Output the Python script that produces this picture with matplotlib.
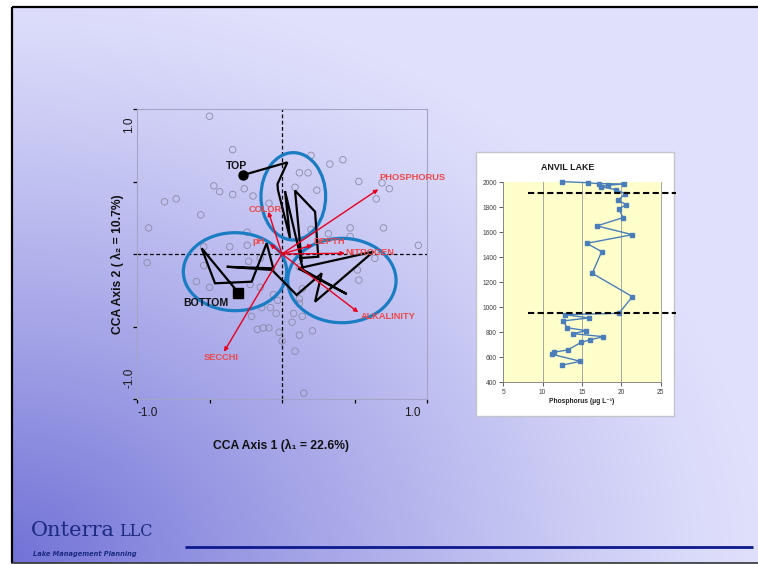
import numpy as np
import matplotlib
matplotlib.use("Agg")
import matplotlib.pyplot as plt
from matplotlib.patches import Ellipse, Rectangle

plt.rcParams['font.family'] = ['Liberation Sans', 'DejaVu Sans']

W, H = 758, 564

# ---------------- CCA ordination (sites, trajectory, biplot arrows) ----------------
site_x = [-0.50, -0.34, 0.20, 0.42, 0.33, 0.12, 0.18, -0.47, -0.43, -0.26, -0.34, -0.20,
          0.09, 0.24, 0.53, 0.69, 0.74, -0.81, -0.73, 0.65, -0.56, -0.92, 0.47, 0.70,
          -0.24, 0.20, 0.32, 0.47, -0.54, -0.36, -0.24, 0.94, -0.93, -0.23, -0.15, 0.64,
          -0.54, 0.12, 0.52, -0.59, -0.50, -0.22, 0.53, 0.14, 0.12, -0.06, -0.03, -0.14,
          -0.08, -0.04, 0.12, 0.08, 0.14, -0.21, 0.07, -0.13, -0.17, -0.09, -0.02, 0.00,
          0.21, 0.12, 0.09, 0.15, -0.09, -0.15]
site_y = [0.95, 0.72, 0.68, 0.65, 0.62, 0.56, 0.56, 0.47, 0.43, 0.45, 0.41, 0.40,
          0.46, 0.44, 0.50, 0.49, 0.45, 0.36, 0.38, 0.38, 0.27, 0.18, 0.18, 0.18,
          0.15, 0.17, 0.14, 0.12, 0.05, 0.05, 0.06, 0.06, -0.06, -0.05, -0.03, -0.03,
          -0.08, -0.09, -0.11, -0.19, -0.23, -0.21, -0.18, -0.24, -0.31, -0.28, -0.32, -0.37,
          -0.37, -0.41, -0.34, -0.41, -0.43, -0.43, -0.47, -0.51, -0.52, -0.51, -0.54, -0.60,
          -0.53, -0.56, -0.67, -0.96, 0.35, -0.23]

# core trajectory, from the top of the core to the bottom
traj_x = [-0.267, 0.037, -0.031, -0.028, 0.055, 0.021, 0.136, 0.090, 0.228, 0.250,
          0.124, 0.147, 0.446, 0.112, 0.630, 0.228, 0.274, 0.101, -0.069, -0.381,
          -0.060, -0.106, -0.209, -0.462, -0.554, -0.301]
traj_y = [0.545, 0.632, 0.483, 0.441, 0.110, 0.434, -0.055, 0.437, 0.292, -0.019,
          -0.028, -0.110, -0.276, -0.099, 0.016, -0.329, -0.133, -0.283, -0.110, -0.088,
          -0.099, 0.074, -0.191, -0.202, 0.039, -0.267]

env_names = ['PHOSPHORUS', 'COLOR', 'pH', 'DEPTH', 'NITROGEN', 'ALKALINITY', 'SECCHI']
env_x = [0.664, -0.094, -0.083, 0.211, 0.434, 0.526, -0.400]
env_y = [0.446, 0.292, 0.069, 0.062, 0.005, -0.402, -0.674]

zone_cx = [0.078, -0.324, 0.413]
zone_cy = [0.398, -0.122, -0.183]
zone_w = [0.446, 0.713, 0.747]
zone_h = [0.602, 0.538, 0.582]

# ---------------- Anvil Lake phosphorus profile ----------------
phos = [12.5, 15.7, 17.1, 20.3, 18.3, 17.4, 19.3, 20.5, 19.6, 20.6, 19.7, 20.2, 16.9,
        21.4, 15.6, 17.5, 16.3, 21.4, 19.7, 12.8, 15.9, 12.6, 13.1, 15.5, 13.9, 17.7,
        16.0, 14.9, 13.2, 11.4, 11.2, 14.8, 12.4]
year = [2005, 1997, 1989, 1987, 1976, 1965, 1941, 1909, 1856, 1821, 1787, 1717, 1651,
        1581, 1512, 1445, 1272, 1085, 952, 941, 915, 891, 837, 813, 789, 765,
        739, 720, 659, 640, 624, 568, 536]
zone_breaks = [1912, 957]

# ---------------- figure & slide background ----------------
fig = plt.figure(figsize=(W / 100, H / 100), dpi=100)
fig.patch.set_facecolor('white')

bg = fig.add_axes([0, 0, 1, 1])
bg.axis('off')

x0, x1, y0, y1 = 12, W, 7, 563
yy, xx = np.mgrid[y0:y1, x0:x1].astype(float)
dist = np.hypot(xx, (yy - H) * 1.3)
dark = np.clip(1 - dist / 760.0, 0, 1) ** 1.2
light_c = np.array([224, 224, 252]) / 255.0
dark_c = np.array([112, 112, 214]) / 255.0
img = light_c * (1 - dark[..., None]) + dark_c * dark[..., None]
bg.imshow(img, extent=(x0, x1, y1, y0), aspect='auto', zorder=0, interpolation='bilinear')
bg.set_xlim(0, W)
bg.set_ylim(H, 0)

bg.plot([x0, W], [y0, y0], color='black', lw=1.6, zorder=1, solid_capstyle='butt')
bg.plot([x0, x0], [y0, y1], color='black', lw=1.6, zorder=1, solid_capstyle='butt')
bg.plot([x0, W], [y1, y1], color='#333333', lw=1.2, zorder=1)

# company logo and rule
bg.text(31, 536, 'Onterra', family='DejaVu Serif', fontsize=15, color='#1c2a80',
        va='baseline', ha='left', zorder=2)
bg.text(119, 536, 'LLC', family='DejaVu Serif', fontsize=11.5, color='#1c2a80',
        va='baseline', ha='left', zorder=2)
bg.text(33, 556, 'Lake Management Planning', family='DejaVu Sans', fontsize=4.8,
        fontweight='bold', fontstyle='italic', color='#1c2a80', va='baseline',
        ha='left', zorder=2)
bg.plot([185, 753], [546.5, 546.5], color='#0c1a8c', lw=2, zorder=2,
        solid_capstyle='butt')

# white panel behind the profile chart
bg.add_patch(Rectangle((476, 152), 198, 264, facecolor='white', edgecolor='#c4c4cc',
                       lw=1, zorder=2))
bg.text(568, 167, 'ANVIL LAKE', fontsize=6.4, fontweight='bold', ha='center',
        va='center', color='#1a1a1a', zorder=3)

# ---------------- CCA biplot ----------------
ax = fig.add_axes([137 / W, 1 - 399 / H, 290 / W, 290 / H])
ax.set_facecolor('none')
ax.set_xlim(-1, 1)
ax.set_ylim(-1, 1)
for s in ax.spines.values():
    s.set_color('#a4a4c6')
    s.set_linewidth(0.8)
ax.set_xticks([-1, -0.5, 0, 0.5, 1])
ax.set_yticks([-1, -0.5, 0, 0.5, 1])
ax.set_xticklabels([])
ax.set_yticklabels([])
ax.tick_params(direction='out', length=3, width=0.9, color='black')

ax.axhline(0, color='black', lw=0.9, ls=(0, (3, 2)), zorder=1)
ax.axvline(0, color='black', lw=0.9, ls=(0, (3, 2)), zorder=1)

ax.scatter(site_x, site_y, s=22, facecolors='none', edgecolors='#8a8aa6',
           linewidths=0.6, zorder=2)

for cx, cy, w, h in zip(zone_cx, zone_cy, zone_w, zone_h):
    ax.add_patch(Ellipse((cx, cy), w, h, fill=False, edgecolor='#1a7cc2', lw=2.3, zorder=3))

ax.plot(traj_x, traj_y, color='black', lw=1.6, zorder=4, solid_joinstyle='miter')
ax.plot(traj_x[0], traj_y[0], 'o', color='black', ms=6.5, zorder=5)
ax.plot(traj_x[-1], traj_y[-1], 's', color='black', ms=7, zorder=5)

for ex, ey in zip(env_x, env_y):
    ax.annotate('', xy=(ex, ey), xytext=(0, 0),
                arrowprops=dict(arrowstyle='-|>', color='#e8001e', lw=1.0,
                                mutation_scale=6, shrinkA=0, shrinkB=0),
                zorder=6)

label_pos = {
    'PHOSPHORUS': (0.669, 0.531, 'left'),
    'COLOR': (-0.117, 0.310, 'center'),
    'pH': (-0.159, 0.083, 'center'),
    'DEPTH': (0.214, 0.083, 'left'),
    'NITROGEN': (0.434, 0.007, 'left'),
    'ALKALINITY': (0.545, -0.432, 'left'),
    'SECCHI': (-0.421, -0.717, 'center'),
}
for name in env_names:
    lx, ly, ha = label_pos[name]
    ax.text(lx, ly, name, color='#ee4848', fontsize=6.7, fontweight='bold',
            ha=ha, va='center', zorder=7)

ax.text(-0.317, 0.607, 'TOP', fontsize=7.6, fontweight='bold', ha='center',
        va='center', color='#111111', zorder=7)
ax.text(-0.524, -0.338, 'BOTTOM', fontsize=7.6, fontweight='bold', ha='center',
        va='center', color='#111111', zorder=7)

# axis end labels
ax.text(-0.924, -1.097, '-1.0', fontsize=8.5, ha='center', va='center',
        color='#1a1a1a', clip_on=False)
ax.text(0.897, -1.097, '1.0', fontsize=8.5, ha='center', va='center',
        color='#1a1a1a', clip_on=False)
ax.text(-1.055, 0.89, '1.0', fontsize=8.5, ha='center', va='center', rotation=90,
        color='#1a1a1a', clip_on=False)
ax.text(-1.055, -0.855, '-1.0', fontsize=8.5, ha='center', va='center', rotation=90,
        color='#1a1a1a', clip_on=False)

bg.text(281, 445, 'CCA Axis 1 (λ₁ = 22.6%)', fontsize=8.7, fontweight='bold',
        ha='center', va='center', color='#111111', zorder=3)
bg.text(117, 264, 'CCA Axis 2 ( λ₂ = 10.7%)', fontsize=8.7, fontweight='bold',
        ha='center', va='center', rotation=90, color='#111111', zorder=3)

# ---------------- phosphorus profile ----------------
ax2 = fig.add_axes([503.3 / W, 1 - 382.3 / H, 157.4 / W, 200 / H])
ax2.set_facecolor('#ffffcc')
ax2.set_xlim(5, 25)
ax2.set_ylim(400, 2000)
ax2.set_xticks([5, 10, 15, 20, 25])
ax2.set_yticks(range(400, 2001, 200))
ax2.grid(axis='x', color='#a6a6a6', lw=0.7)
ax2.set_axisbelow(True)
ax2.spines['top'].set_visible(False)
ax2.spines['right'].set_color('#a6a6a6')
ax2.spines['right'].set_linewidth(0.7)
ax2.spines['left'].set_color('#8a8a8a')
ax2.spines['bottom'].set_color('#8a8a8a')
ax2.spines['left'].set_linewidth(0.7)
ax2.spines['bottom'].set_linewidth(0.7)
ax2.tick_params(axis='both', labelsize=4.8, colors='#404040', length=3, width=0.6, pad=1.5)

ax2.plot(phos, year, color='#4a7ebb', lw=1.0, marker='s', ms=3.2, clip_on=False, zorder=3)
for yb in zone_breaks:
    ax2.plot([8.2, 26.9], [yb, yb], color='black', lw=1.5, ls=(0, (3, 1.6)),
             clip_on=False, zorder=4)
ax2.set_xlabel('Phosphorus (μg L⁻¹)', fontsize=4.8, fontweight='bold',
               labelpad=2, color='#222222')

fig.savefig('out.png', dpi=100, facecolor='white')
